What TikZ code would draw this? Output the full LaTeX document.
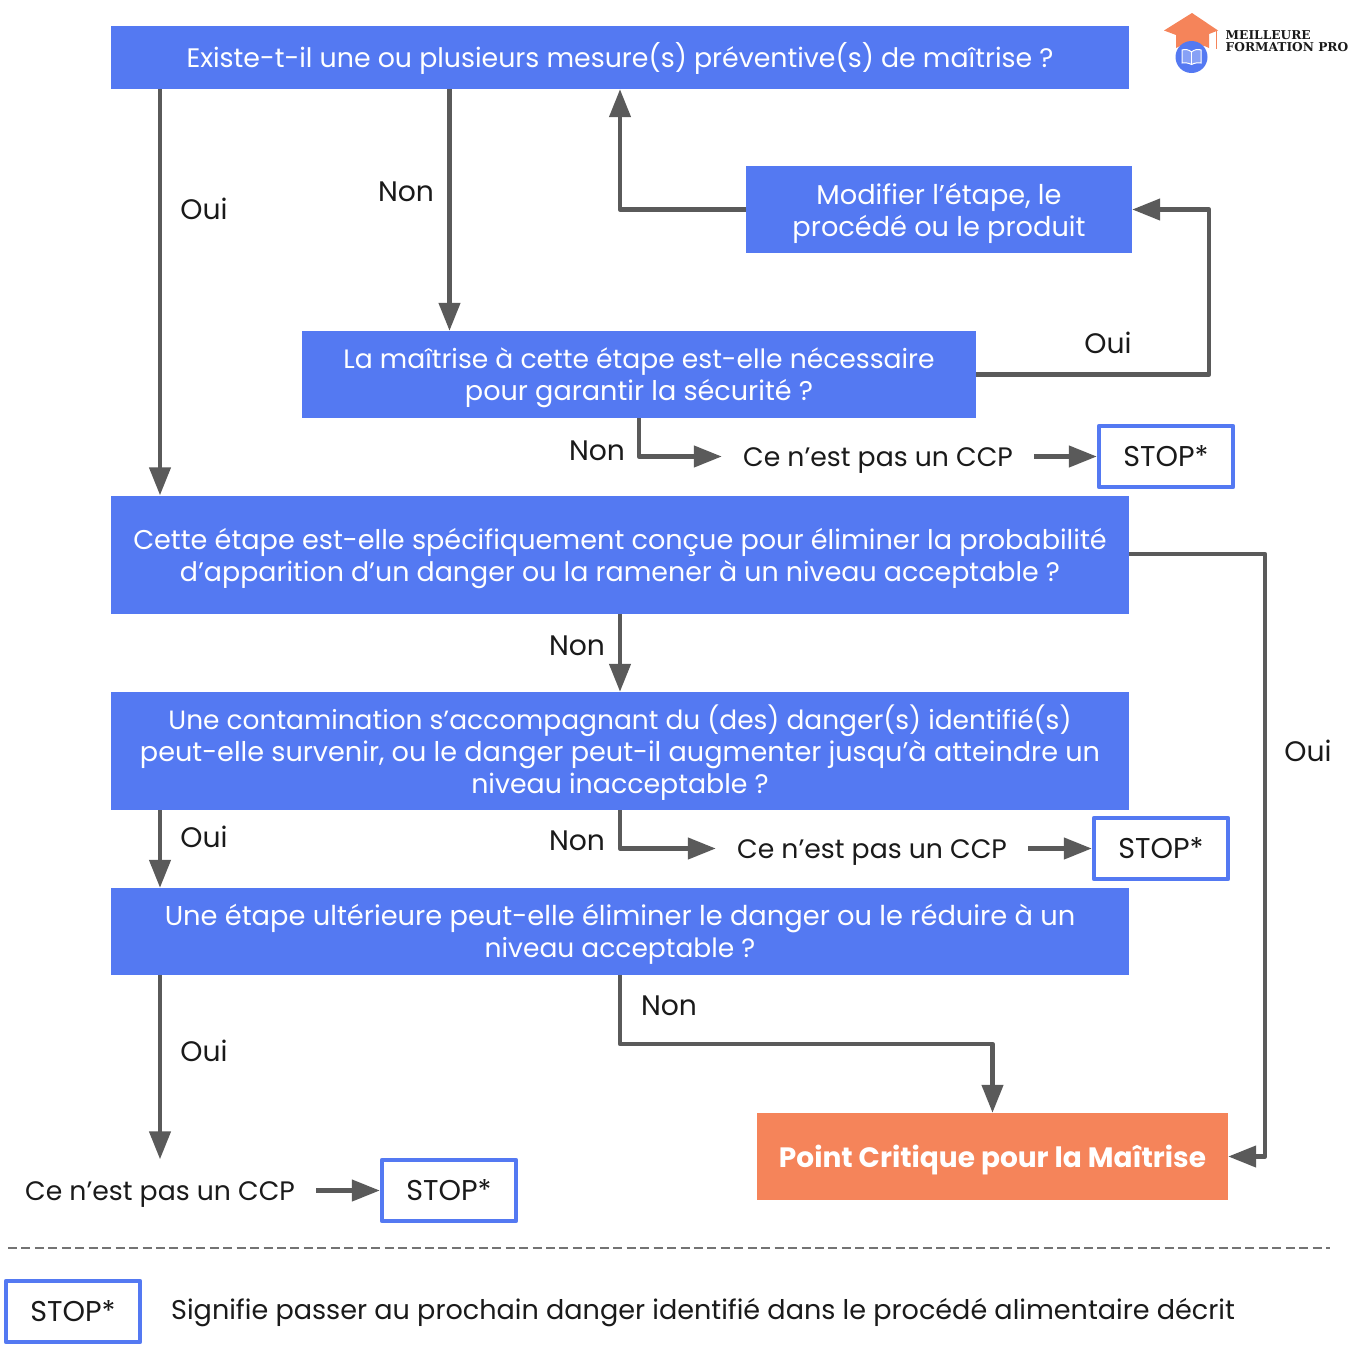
\documentclass[tikz,border=0pt]{standalone}
\usepackage{fontspec}
\setmainfont{Poppins}
\newfontfamily\logofont{DejaVu Serif}
\usetikzlibrary{arrows.meta,calc}
\definecolor{bluebox}{HTML}{5479F2}
\definecolor{orangebox}{HTML}{F5845A}
\definecolor{linegray}{HTML}{5A5A5A}
\definecolor{inktext}{HTML}{1A1A1A}
\newcommand\STtop{\rule{0pt}{26pt}}
\newcommand\STbot{\rule[-7pt]{0pt}{7pt}}
\newcommand\lnsize[2]{{\fontsize{#1}{32}\selectfont #2}}
\tikzset{
  x=1pt,y=-1pt,
  struts/.style={execute at begin node=\STtop,execute at end node=\STbot},
  bluenode/.style={fill=bluebox,text=white,align=center,inner sep=0pt,font=\fontsize{#1}{32}\selectfont},
  stopnode/.style={struts,draw=bluebox,line width=4.4pt,line join=round,fill=white,text=inktext,inner sep=0pt,minimum width=134pt,minimum height=61pt,font=\fontsize{28.6}{32}\selectfont},
  ccpnode/.style={struts,text=inktext,inner sep=0pt,minimum height=62pt,minimum width=312pt,font=\fontsize{26.7}{32}\selectfont},
  lab/.style={struts,text=inktext,inner sep=0pt,font=\fontsize{28.2}{32}\selectfont},
  arr/.style={draw=linegray,line width=4.4pt,-{Triangle[length=28pt,width=21pt]},line join=round},
}
\begin{document}
\begin{tikzpicture}
\useasboundingbox (0,0) rectangle (1360,1365);
\fill[white] (0,0) rectangle (1360,1365);
% blue boxes
\node[bluenode=26.8,struts,minimum width=1018pt,minimum height=63pt] (A) at (620,57.5) {Existe-t-il une ou plusieurs mesure(s) préventive(s) de maîtrise ?};
\node[bluenode=27.2,minimum width=386pt,minimum height=87pt] (B) at (939,209.5) {\rule{0pt}{30pt}Modifier l’étape, le\\procédé ou le produit\STbot};
\node[bluenode=26.6,minimum width=674pt,minimum height=87pt] (C) at (639,374.5) {\rule{0pt}{28pt}La maîtrise à cette étape est-elle nécessaire\\\lnsize{27.07}{pour garantir la sécurité ?}\STbot};
\node[bluenode=27.1,minimum width=1018pt,minimum height=118pt] (D) at (620,554.5) {\rule{0pt}{30pt}Cette étape est-elle spécifiquement conçue pour éliminer la probabilité\\\lnsize{26.85}{d’apparition d’un danger ou la ramener à un niveau acceptable ?}\STbot};
\node[bluenode=27.1,minimum width=1018pt,minimum height=118pt] (E) at (620,751) {\rule{0pt}{28pt}\lnsize{26.45}{Une contamination s’accompagnant du (des) danger(s) identifié(s)}\\peut-elle survenir, ou le danger peut-il augmenter jusqu’à atteindre un\\\lnsize{26.8}{niveau inacceptable ?}\STbot};
\node[bluenode=27.3,minimum width=1018pt,minimum height=87pt] (F) at (620,931.5) {\STtop Une étape ultérieure peut-elle éliminer le danger ou le réduire à un\\\lnsize{26.5}{niveau acceptable ?}\STbot};
\node[fill=orangebox,text=white,inner sep=0pt,minimum width=471pt,minimum height=87pt,font=\fontsize{28}{32}\selectfont\bfseries] (G) at (992.5,1156.5) {\rule{0pt}{30pt}Point Critique pour la Maîtrise\STbot};
% stops
\node[stopnode] (S1) at (1166,456.5) {STOP*};
\node[stopnode] (S2) at (1161,848.5) {STOP*};
\node[stopnode] (S3) at (449,1190.5) {STOP*};
\node[stopnode] (S4) at (73,1311.5) {STOP*};
% ccp
\node[ccpnode] (P1) at (878,456.5) {Ce n’est pas un CCP};
\node[ccpnode] (P2) at (872,848.5) {Ce n’est pas un CCP};
\node[ccpnode] (P3) at (160,1190.5) {Ce n’est pas un CCP};
% guides
\coordinate (xa) at (160,0);
\coordinate (xb) at (449.5,0);
\coordinate (xc) at (620,0);
\coordinate (xd) at (639,0);
\coordinate (xe) at (1209,0);
\coordinate (xf) at (1265,0);
\coordinate (yg) at (0,1044);
\coordinate (yh) at (0,1156.5);
\coordinate (yd) at (0,554);
\coordinate (xg) at (992.5,0);
% connectors
\draw[arr] (A.south -| xa) -- (D.north -| xa);
\draw[arr] (A.south -| xb) -- (C.north -| xb);
\draw[arr] (B.west) -| (A.south -| xc);
\draw[arr] (C.east) -| (xe |- B.east) -- (B.east);
\draw[arr] (C.south -| xd) |- (P1.west);
\draw[arr] (P1.east) -- (S1.west);
\draw[arr] (D.south -| xc) -- (E.north -| xc);
\draw[arr] (D.east |- yd) -| (xf |- yh) -- (G.east);
\draw[arr] (E.south -| xa) -- (F.north -| xa);
\draw[arr] (E.south -| xc) |- (P2.west);
\draw[arr] (P2.east) -- (S2.west);
\draw[arr] (F.south -| xa) -- (P3.north);
\draw[arr] (P3.east) -- (S3.west);
\draw[arr] (F.south -| xc) |- (xg |- yg) -- (G.north);
% labels
\node[lab] (l1) at (204,209.5) {Oui};
\node[lab] (l2) at (406,191.5) {Non};
\node[lab] (l3) at (1108,343.5) {Oui};
\node[lab] (l4) at (597,450.5) {Non};
\node[lab] (l5) at (577,645.5) {Non};
\node[lab] (l6) at (1308,751.5) {Oui};
\node[lab] (l7) at (204,837.5) {Oui};
\node[lab] (l8) at (577,840.5) {Non};
\node[lab] (l9) at (669,1005.5) {Non};
\node[lab] (l10) at (204,1051.5) {Oui};
% legend
\coordinate (dl) at (8,1248);
\coordinate (dr) at (1330,1248);
\draw[linegray!85,line width=1.5pt,dash pattern=on 9pt off 4.45pt] (dl) -- (dr);
\node[struts,text=inktext,inner sep=0pt,anchor=west,font=\fontsize{27.05}{32}\selectfont] (leg) at (171,1310) {Signifie passer au prochain danger identifié dans le procédé alimentaire décrit};
% logo
\fill[orangebox] (1192,13) -- (1218,30.5) -- (1209,34) -- (1209,48) .. controls (1200,43) and (1184,43) .. (1176,48) -- (1176,35) -- (1164,30.5) -- cycle;
\draw[orangebox,line width=1.2pt] (1216.5,31) -- (1216.5,49);
\fill[bluebox] (1191.5,57) circle (16);
\draw[white,line width=1pt,fill=bluebox!70!white] (1182,50) .. controls (1185,49) and (1189,49.5) .. (1191.5,52) .. controls (1194,49.5) and (1198,49) .. (1201,50) -- (1201,63) .. controls (1198,62.5) and (1194,63) .. (1191.5,64.5) .. controls (1189,63) and (1185,62.5) .. (1182,63) -- cycle;
\draw[white,line width=1pt] (1191.5,52) -- (1191.5,64);
\node[anchor=west,inner sep=0pt,text=inktext,font=\logofont\bfseries\fontsize{12.2}{12.2}\selectfont] (m1) at (1225.5,35.5) {MEILLEURE};
\node[anchor=west,inner sep=0pt,text=inktext,font=\logofont\bfseries\fontsize{12.2}{12.2}\selectfont] (m2) at (1225.5,47) {FORMATION PRO};
\end{tikzpicture}
\end{document}
